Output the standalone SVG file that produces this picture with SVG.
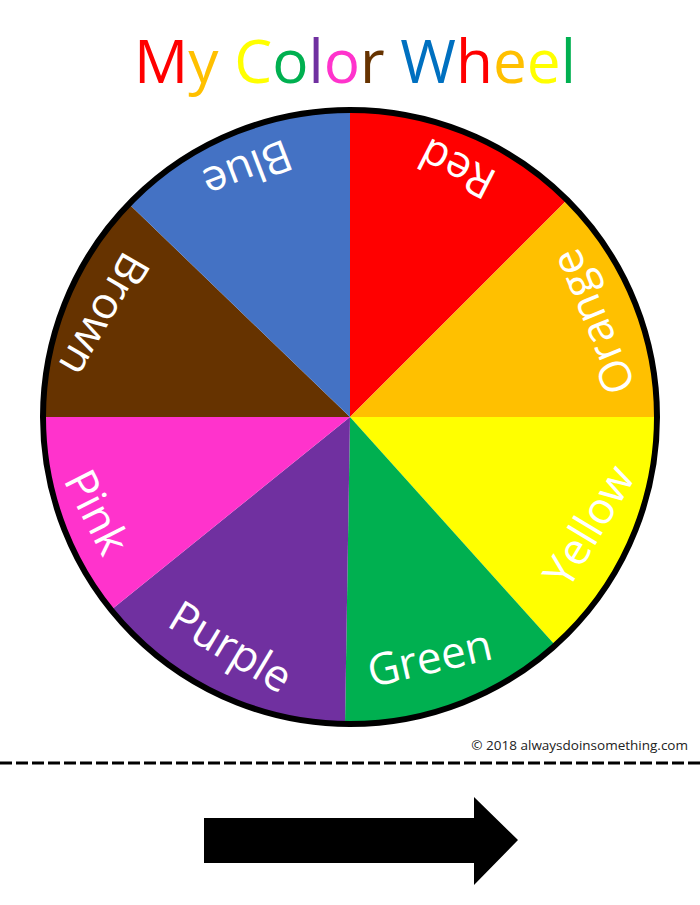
<svg xmlns="http://www.w3.org/2000/svg" width="700" height="905" viewBox="0 0 700 905">
<style>
.lbl{font-family:"Open Sans","Noto Sans",sans-serif;font-size:44px;fill:#ffffff;text-anchor:middle}
.title{font-family:"Open Sans","Noto Sans",sans-serif;font-size:60px}
.copy{font-family:"Open Sans","Noto Sans",sans-serif;font-size:13.5px;fill:#222222;text-anchor:end}
</style>
<rect width="700" height="905" fill="#ffffff"/>
<g id="title">
<text class="title" x="355" y="83" text-anchor="middle" textLength="442" lengthAdjust="spacingAndGlyphs"><tspan fill="#FF0000">M</tspan><tspan fill="#FFC000">y</tspan> <tspan fill="#FFFF00">C</tspan><tspan fill="#00B050">o</tspan><tspan fill="#7030A0">l</tspan><tspan fill="#FF33CC">o</tspan><tspan fill="#663300">r</tspan> <tspan fill="#0070C0">W</tspan><tspan fill="#FF0000">h</tspan><tspan fill="#FFC000">e</tspan><tspan fill="#FFFF00">e</tspan><tspan fill="#00B050">l</tspan></text>
</g>
<g id="wheel">
<g id="red"><path d="M350,417 L350,110 A307,307 0 0 1 567,200 Z" fill="#FF0000"/><text class="lbl" transform="translate(464,155) rotate(207)">Red</text></g>
<g id="orange"><path d="M350,417 L567,200 A307,307 0 0 1 657,417 Z" fill="#FFC000"/><text class="lbl" transform="translate(607,316) rotate(247.5)">Orange</text></g>
<g id="yellow"><path d="M350,417 L657,417 A307,307 0 0 1 555,645 Z" fill="#FFFF00"/><text class="lbl" transform="translate(602,534) rotate(-59)">Yellow</text></g>
<g id="green"><path d="M350,417 L555,645 A307,307 0 0 1 345,724 Z" fill="#00B050"/><text class="lbl" transform="translate(433,673) rotate(-13)">Green</text></g>
<g id="purple"><path d="M350,417 L345,724 A307,307 0 0 1 111,610 Z" fill="#7030A0"/><text class="lbl" transform="translate(223,660) rotate(31)">Purple</text></g>
<g id="pink"><path d="M350,417 L111,610 A307,307 0 0 1 43,417 Z" fill="#FF33CC"/><text class="lbl" transform="translate(83,519) rotate(63)">Pink</text></g>
<g id="brown"><path d="M350,417 L43,417 A307,307 0 0 1 129,204 Z" fill="#663300"/><text class="lbl" transform="translate(91,307) rotate(120)">Brown</text></g>
<g id="blue"><path d="M350,417 L129,204 A307,307 0 0 1 350,110 Z" fill="#4472C4"/><text class="lbl" transform="translate(242,155) rotate(159)">Blue</text></g>
<circle cx="350" cy="417" r="307" fill="none" stroke="#000000" stroke-width="6"/>
</g>
<g id="footer">
<text class="copy" x="688" y="750">© 2018 alwaysdoinsomething.com</text>
<line x1="0" y1="763" x2="700" y2="763" stroke="#000000" stroke-width="3" stroke-dasharray="12 4"/>
</g>
<g id="connectors">
<polygon id="arrow" points="204,818 474,818 474,797 518,840 474,885 474,863 204,863" fill="#000000"/>
</g>
</svg>
